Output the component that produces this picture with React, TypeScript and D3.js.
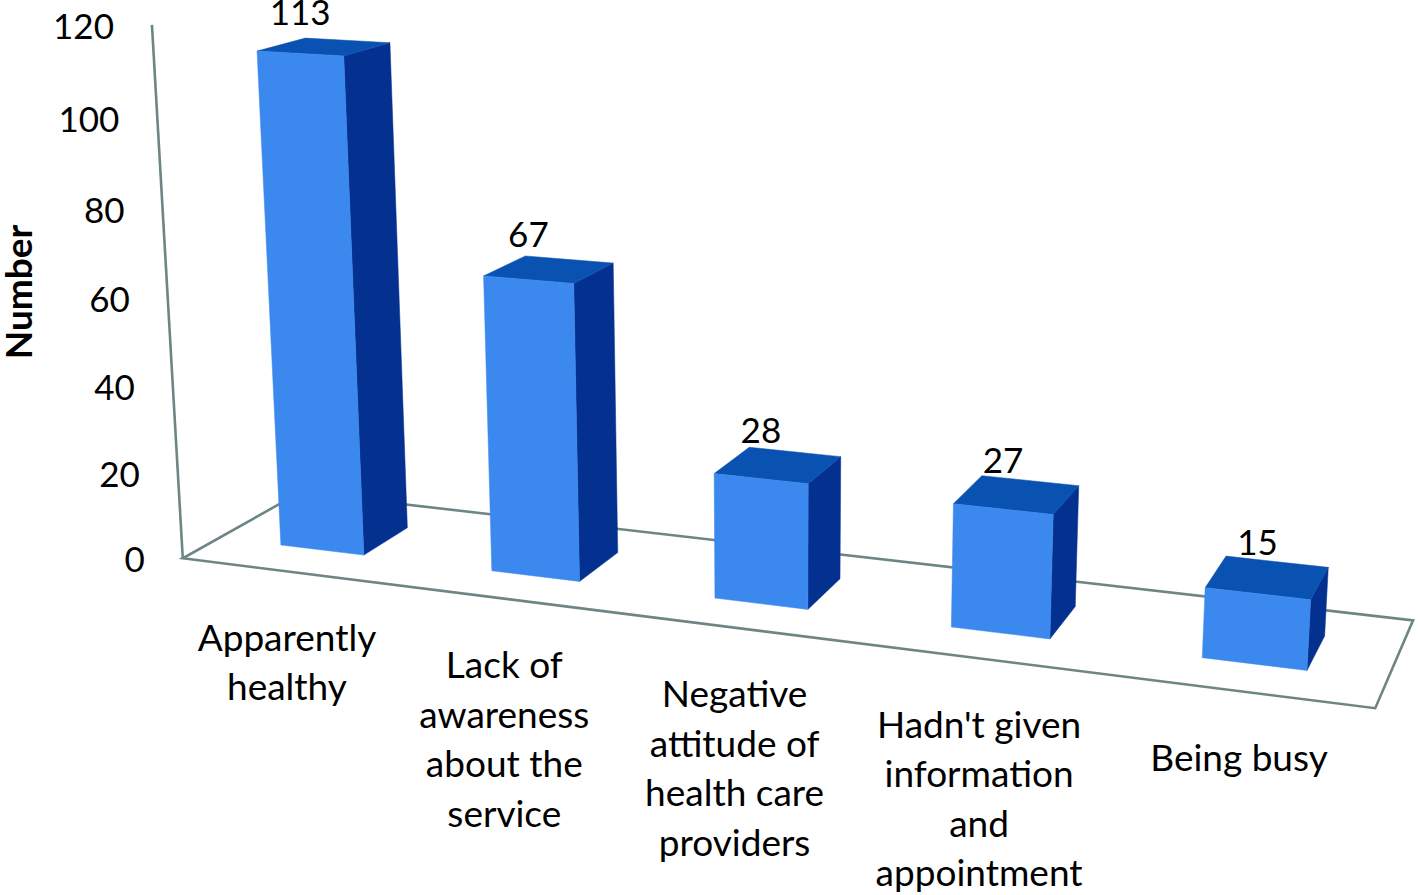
import React from "react";
import * as d3 from "d3";

// ---- data ----
const categories = [
  "Apparently healthy",
  "Lack of awareness about the service",
  "Negative attitude of health care providers",
  "Hadn't given information and appointment",
  "Being busy",
];
const categoryLines = [
  ["Apparently", "healthy"],
  ["Lack of", "awareness", "about the", "service"],
  ["Negative", "attitude of", "health care", "providers"],
  ["Hadn't given", "information", "and", "appointment"],
  ["Being busy"],
];
const values = [113, 67, 28, 27, 15];
const yTicks = [0, 20, 40, 60, 80, 100, 120];
const yAxisTitle = "Number";

// ---- 3D camera (Excel-like rotation X 20°, Y 15°) ----
const W = 1418;
const H = 895;
const theta = (20 * Math.PI) / 180;
const phi = (15 * Math.PI) / 180;
const focal = 2816;
const cx = 780;
const cy = 381;
const origin = [-2.528, 0.7505, 11.92];
const Xc = [Math.cos(theta), Math.sin(theta) * Math.sin(phi), -Math.sin(theta) * Math.cos(phi)];
const Yc = [0, -Math.cos(phi), -Math.sin(phi)];
const Zc = [Math.sin(theta), -Math.cos(theta) * Math.sin(phi), Math.cos(theta) * Math.cos(phi)];

function project(X: number, Y: number, Z: number): [number, number] {
  const px = origin[0] + X * Xc[0] + Y * Yc[0] + Z * Zc[0];
  const py = origin[1] + X * Xc[1] + Y * Yc[1] + Z * Zc[1];
  const pz = origin[2] + X * Xc[2] + Y * Yc[2] + Z * Zc[2];
  return [cx + (focal * px) / pz, cy + (focal * py) / pz];
}

const xScale = d3
  .scaleBand<string>()
  .domain(categories)
  .range([0, 5])
  .paddingInner(0.6)
  .paddingOuter(0.3);
const yScale = d3.scaleLinear().domain([0, 120]).range([0, 2.261]);
const floorDepth = 1;
const zScale = d3.scaleLinear().domain([0, 1]).range([0.3, 0.7]);

const line = d3.line<[number, number]>().x((d) => d[0]).y((d) => d[1]);
const poly = (pts: [number, number, number][]) =>
  line(pts.map((p) => project(p[0], p[1], p[2])) as [number, number][]) + "Z";

const FONT = "Lato, 'Open Sans', sans-serif";
const FS = 35;
const CAT_FS = 37;
const frameColor = "#6d8585";
const frontColor = "#3b88ee";
const sideColor = "#04308f";
const topColor = "#0a52b1";

export default function App() {
  const xMax = xScale.range()[1];
  const yTop = yScale.range()[1];
  const floor = poly([
    [0, 0, 0],
    [xMax, 0, 0],
    [xMax, 0, floorDepth],
    [0, 0, floorDepth],
  ]);
  const axisBottom = project(0, 0, 0);
  const axisTop = project(0, yTop, 0);

  return (
    <svg
      width={W}
      height={H}
      style={{ position: "absolute", left: 0, top: 0, background: "#fff" }}
    >
      <path d={floor} fill="none" stroke={frameColor} strokeWidth={2.6} strokeLinejoin="miter" />
      <line
        x1={axisBottom[0]}
        y1={axisBottom[1]}
        x2={axisTop[0]}
        y2={axisTop[1]}
        stroke={frameColor}
        strokeWidth={2.6}
      />
      {yTicks.map((t) => {
        const p = project(0, yScale(t), 0);
        return (
          <text
            key={t}
            x={p[0] - 38}
            y={p[1]}
            textAnchor="end"
            dominantBaseline="central"
            fontFamily={FONT}
            fontSize={FS}
            fill="#000"
          >
            {t}
          </text>
        );
      })}
      <text
        transform={`translate(17,292) rotate(-90)`}
        textAnchor="middle"
        dominantBaseline="central"
        fontFamily={FONT}
        fontWeight="bold"
        fontSize={37}
        fill="#000"
      >
        {yAxisTitle}
      </text>
      {categories.map((c, i) => {
        const x0 = xScale(c)!;
        const x1 = x0 + xScale.bandwidth();
        const z0 = zScale(0);
        const z1 = zScale(1);
        const v = yScale(values[i]);
        const front = poly([
          [x0, 0, z0],
          [x1, 0, z0],
          [x1, v, z0],
          [x0, v, z0],
        ]);
        const side = poly([
          [x1, 0, z0],
          [x1, 0, z1],
          [x1, v, z1],
          [x1, v, z0],
        ]);
        const top = poly([
          [x0, v, z0],
          [x1, v, z0],
          [x1, v, z1],
          [x0, v, z1],
        ]);
        const xc = x0 + xScale.bandwidth() / 2;
        const lx = project(xc, v, z0)[0];
        const ly = project(xc, v, (z0 + z1) / 2)[1] - 36;
        const cl = project(xc, 0, 0);
        return (
          <g key={c}>
            <path d={side} fill={sideColor} stroke={sideColor} strokeWidth={0.5} />
            <path d={top} fill={topColor} stroke={topColor} strokeWidth={0.5} />
            <path d={front} fill={frontColor} stroke={frontColor} strokeWidth={0.5} />
            <text
              x={lx}
              y={ly}
              textAnchor="middle"
              dominantBaseline="central"
              fontFamily={FONT}
              fontSize={FS}
              fill="#000"
            >
              {values[i]}
            </text>
            {categoryLines[i].map((ln, j) => (
              <text
                key={j}
                x={cl[0]}
                y={cl[1] + 65 + j * 49.5}
                textAnchor="middle"
                dominantBaseline="central"
                fontFamily={FONT}
                fontSize={CAT_FS}
                fill="#000"
              >
                {ln}
              </text>
            ))}
          </g>
        );
      })}
    </svg>
  );
}
